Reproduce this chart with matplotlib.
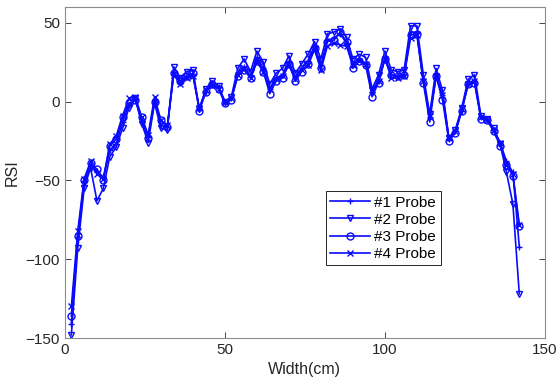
import matplotlib
matplotlib.use("Agg")
import matplotlib.pyplot as plt

plt.rcParams['font.family'] = ['Liberation Sans', 'DejaVu Sans']

# width positions (cm)
width = [2, 4, 6, 8, 10, 12, 14, 16, 18, 20, 22, 24, 26, 28, 30, 32, 34, 36, 38, 40,
         42, 44, 46, 48, 50, 52, 54, 56, 58, 60, 62, 64, 66, 68, 70, 72, 74, 76, 78, 80,
         82, 84, 86, 88, 90, 92, 94, 96, 98, 100, 102, 104, 106, 108, 110, 112, 114, 116, 118, 120,
         122, 124, 126, 128, 130, 132, 134, 136, 138, 140, 142]

probe1 = [-141, -86, -53, -41, -44, -48, -31, -27, -13, -2, 1, -13, -22, 0, -15, -16, 19, 12, 16, 17,
          -5, 6, 11, 9, -1, 2, 18, 22, 16, 28, 21, 8, 15, 17, 25, 15, 21, 26, 35, 23,
          39, 40, 43, 37, 24, 27, 24, 6, 13, 28, 17, 16, 17, 44, 44, 14, -10, 17, 4, -24,
          -19, -6, 11, 13, -10, -12, -18, -26, -38, -45, -92]
probe2 = [-148, -93, -55, -42, -63, -55, -35, -29, -17, -4, 2, -14, -26, -1, -17, -18, 22, 15, 19, 20,
          -5, 8, 13, 10, 0, 3, 21, 27, 19, 32, 25, 11, 18, 21, 29, 18, 24, 30, 38, 27,
          43, 44, 46, 41, 27, 30, 28, 8, 17, 32, 20, 19, 20, 48, 48, 17, -8, 21, 7, -23,
          -18, -4, 14, 17, -9, -11, -17, -27, -45, -65, -122]
probe3 = [-136, -85, -50, -39, -43, -50, -28, -24, -10, -1, 1, -10, -23, 0, -12, -16, 18, 13, 16, 18,
          -6, 6, 11, 8, -1, 1, 16, 20, 15, 26, 19, 5, 13, 15, 24, 13, 19, 24, 34, 21,
          38, 39, 44, 38, 21, 26, 23, 3, 12, 27, 17, 16, 17, 42, 43, 12, -13, 16, 1, -25,
          -20, -6, 11, 12, -11, -12, -19, -28, -40, -47, -79]
probe4 = [-130, -82, -49, -38, -46, -49, -27, -22, -9, 2, 3, -10, -21, 3, -12, -15, 17, 11, 15, 16,
          -4, 7, 10, 8, 0, 2, 17, 21, 15, 25, 19, 8, 14, 16, 23, 14, 20, 23, 33, 20,
          35, 37, 36, 35, 23, 26, 24, 7, 13, 27, 15, 15, 16, 40, 42, 13, -9, 16, 4, -23,
          -19, -5, 11, 13, -10, -12, -18, -26, -40, -46, -78]

labels = ['#1 Probe', '#2 Probe', '#3 Probe', '#4 Probe']
markers = ['+', 'v', 'o', 'x']

fig = plt.figure(figsize=(5.6, 3.85), dpi=100)
ax = fig.add_axes([0.116, 0.122, 0.857, 0.86])

for ys, lab, m in zip([probe1, probe2, probe3, probe4], labels, markers):
    ax.plot(width, ys, color='#0a0aff', lw=1.2, marker=m, markersize=5,
            markerfacecolor='none', markeredgewidth=1.0, label=lab)

ax.set_xlim(0, 150)
ax.set_ylim(-150, 60)
ax.set_xticks([0, 50, 100, 150])
ax.set_yticks([-150, -100, -50, 0, 50])
ax.tick_params(direction='in', top=True, right=True, labelsize=11,
               colors='#262626', length=4, width=0.6)
for s in ax.spines.values():
    s.set_color('#8c8c8c')
    s.set_linewidth(0.8)
ax.set_xlabel('Width(cm)', fontsize=11.5, color='#262626', labelpad=4)
ax.set_ylabel('RSI', fontsize=11.5, color='#262626', labelpad=4)

leg = ax.legend(loc='lower left', bbox_to_anchor=(0.527, 0.196), fontsize=11,
                fancybox=False, edgecolor='#262626', framealpha=1,
                handlelength=2.6, borderpad=0.3, labelspacing=0.2, handletextpad=0.3)
leg.get_frame().set_linewidth(0.7)

fig.savefig('out.png', dpi=100)
